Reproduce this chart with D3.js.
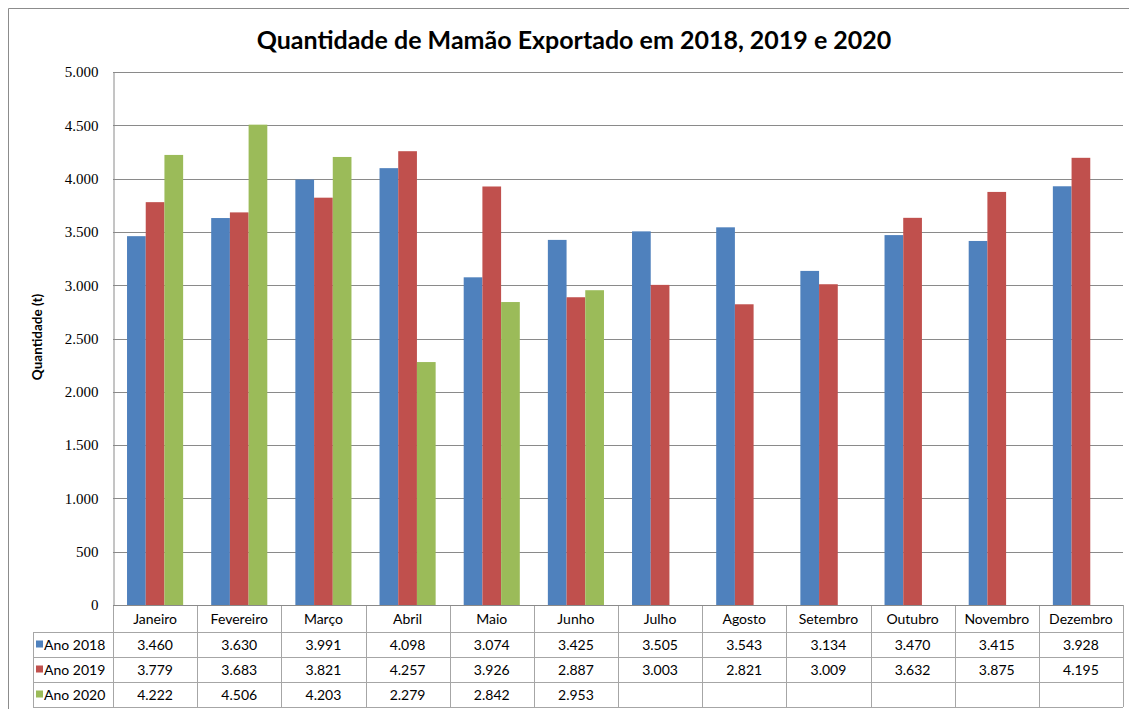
<!DOCTYPE html>
<html>
<head>
<meta charset="utf-8">
<script src="https://cdn.jsdelivr.net/npm/d3@7"></script>
<style>
  html, body { margin: 0; padding: 0; background: #fff; }
  svg { display: block; }
</style>
</head>
<body>
<svg id="chart" width="1129" height="709"></svg>
<script>
// Monthly papaya exports (tonnes)
const months = ["Janeiro", "Fevereiro", "Março", "Abril", "Maio", "Junho",
                "Julho", "Agosto", "Setembro", "Outubro", "Novembro", "Dezembro"];
const seriesNames = ["Ano 2018", "Ano 2019", "Ano 2020"];
const ano2018 = [3460, 3630, 3991, 4098, 3074, 3425, 3505, 3543, 3134, 3470, 3415, 3928];
const ano2019 = [3779, 3683, 3821, 4257, 3926, 2887, 3003, 2821, 3009, 3632, 3875, 4195];
const ano2020 = [4222, 4506, 4203, 2279, 2842, 2953, null, null, null, null, null, null];
const yTicks = [0, 500, 1000, 1500, 2000, 2500, 3000, 3500, 4000, 4500, 5000];
const colors = ["#4F81BD", "#C0504D", "#9BBB59"];

const seriesValues = [ano2018, ano2019, ano2020];

const svg = d3.select("#chart");
const plot = { left: 113, right: 1123, top: 72, bottom: 605 };
const table = { legendLeft: 33, rows: [605, 632, 657, 682, 707] };

const locale = d3.formatLocale({ decimal: ",", thousands: ".", grouping: [3], currency: ["R$", ""] });
const fmt = locale.format(",d");

// Chart area border
svg.append("path")
  .attr("d", "M8.5,709 V8.5 H1129")
  .attr("fill", "none").attr("stroke", "#8c8c8c").attr("stroke-width", 1);

// Title
svg.append("text")
  .attr("x", 574).attr("y", 49)
  .attr("text-anchor", "middle")
  .attr("font-family", "Lato, 'Open Sans', sans-serif")
  .attr("font-weight", "bold")
  .attr("font-size", 25)
  .attr("fill", "#000")
  .text("Quantidade de Mamão Exportado em 2018, 2019 e 2020");

const x = d3.scaleBand().domain(months).range([plot.left, plot.right]).padding(0);
const xs = d3.scaleBand().domain(seriesNames).range([0, x.bandwidth()])
  .paddingInner(0).paddingOuter(0.75);
const y = d3.scaleLinear().domain([0, 5000]).range([plot.bottom, plot.top]);

// Gridlines
svg.append("g")
  .selectAll("line")
  .data(yTicks.filter(t => t > 0))
  .join("line")
  .attr("x1", plot.left).attr("x2", plot.right)
  .attr("y1", d => Math.round(y(d)) + 0.5).attr("y2", d => Math.round(y(d)) + 0.5)
  .attr("stroke", "#8a8a8a").attr("stroke-width", 1);

// Y axis
const yAxis = svg.append("g")
  .attr("transform", `translate(${plot.left + 0.5},0)`)
  .attr("font-family", "'Liberation Serif', 'DejaVu Serif', serif")
  .call(d3.axisLeft(y).tickValues(yTicks).tickFormat(fmt).tickSize(0).tickPadding(15));
yAxis.select(".domain").attr("stroke", "#8a8a8a");
yAxis.selectAll("text")
  .style("font-family", "'Liberation Serif', 'DejaVu Serif', serif")
  .style("font-size", "15px")
  .attr("fill", "#000");

// Y axis title
svg.append("text")
  .attr("transform", "translate(42,337) rotate(-90)")
  .attr("text-anchor", "middle")
  .attr("font-family", "Lato, sans-serif")
  .attr("font-weight", "bold")
  .attr("font-size", 13.5)
  .attr("fill", "#000")
  .text("Quantidade (t)");

// Bars
const barData = [];
seriesNames.forEach((s, si) => {
  months.forEach((m, mi) => {
    const v = seriesValues[si][mi];
    if (v != null) barData.push({ series: s, si, month: m, value: v });
  });
});
svg.append("g")
  .selectAll("rect")
  .data(barData)
  .join("rect")
  .attr("x", d => x(d.month) + xs(d.series))
  .attr("width", xs.bandwidth())
  .attr("y", d => y(d.value))
  .attr("height", d => y(0) - y(d.value))
  .attr("fill", d => colors[d.si]);

// Data table
const tbl = svg.append("g").attr("stroke", "#a6a6a6").attr("stroke-width", 1).attr("fill", "none");
// horizontal row lines
table.rows.slice(1).forEach(r => {
  tbl.append("line")
    .attr("x1", table.legendLeft).attr("x2", plot.right)
    .attr("y1", r + 0.5).attr("y2", r + 0.5);
});
// category separators
months.concat([null]).forEach((m, i) => {
  const xx = m ? x(m) : plot.right;
  tbl.append("line")
    .attr("x1", Math.round(xx) + 0.5).attr("x2", Math.round(xx) + 0.5)
    .attr("y1", table.rows[0]).attr("y2", table.rows[4]);
});
// legend column left edge
tbl.append("line")
  .attr("x1", table.legendLeft + 0.5).attr("x2", table.legendLeft + 0.5)
  .attr("y1", table.rows[1]).attr("y2", table.rows[4]);

// Axis baseline
svg.append("line")
  .attr("x1", plot.left).attr("x2", plot.right)
  .attr("y1", plot.bottom + 0.5).attr("y2", plot.bottom + 0.5)
  .attr("stroke", "#8a8a8a");

const tableFont = "Lato, 'Open Sans', sans-serif";

// Month headers
svg.append("g")
  .selectAll("text")
  .data(months)
  .join("text")
  .attr("x", d => x(d) + x.bandwidth() / 2)
  .attr("y", (table.rows[0] + table.rows[1]) / 2 + 5)
  .attr("text-anchor", "middle")
  .attr("font-family", tableFont)
  .attr("font-size", 14)
  .attr("fill", "#000")
  .text(d => d);

// Legend keys and row labels
seriesNames.forEach((s, si) => {
  const cy = (table.rows[si + 1] + table.rows[si + 2]) / 2;
  svg.append("rect")
    .attr("x", 36).attr("y", cy - 4).attr("width", 7).attr("height", 7)
    .attr("fill", colors[si]);
  svg.append("text")
    .attr("x", 44).attr("y", cy + 5)
    .attr("font-family", tableFont)
    .attr("font-size", 14)
    .attr("fill", "#000")
    .text(s);
  svg.append("g")
    .selectAll("text")
    .data(months.map((m, mi) => ({ m, v: seriesValues[si][mi] })).filter(d => d.v != null))
    .join("text")
    .attr("x", d => x(d.m) + x.bandwidth() / 2)
    .attr("y", cy + 5)
    .attr("text-anchor", "middle")
    .attr("font-family", tableFont)
    .attr("font-size", 14)
    .attr("fill", "#000")
    .text(d => fmt(d.v));
});
</script>
</body>
</html>
